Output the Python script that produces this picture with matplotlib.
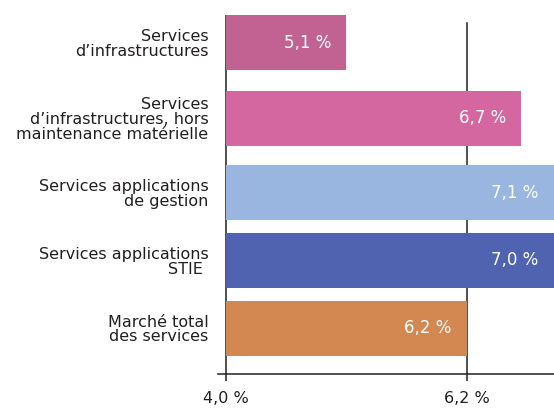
import numpy as np
import matplotlib
matplotlib.use('Agg')
import matplotlib.pyplot as plt

# donnees
categories = ["Services\nd\u2019infrastructures",
              "Services\nd\u2019infrastructures, hors\nmaintenance mat\u00e9rielle",
              "Services applications\nde gestion",
              "Services applications\nSTIE ",
              "March\u00e9 total\ndes services"]
valeurs = [5.1, 6.7, 7.1, 7.0, 6.2]
etiquettes = ["5,1 %", "6,7 %", "7,1 %", "7,0 %", "6,2 %"]
couleurs = ["#C26293", "#D4679F", "#98B6E0", "#5063B0", "#D38851"]
ticks_x = [4.0, 6.2]
ticks_lab = ["4,0 %", "6,2 %"]
base = 4.0

plt.rcParams['font.family'] = ['DejaVu Sans']
texte = '#231F20'

fig = plt.figure(figsize=(5.54, 4.12), dpi=100)
ax = fig.add_axes([218/554, 38/412, 336/554, 359/412])

# positions verticales des barres (espacement pas tout a fait regulier)
y = np.array([0, 1.06, 2.1, 3.05, 4.0])
ax.barh(y, np.array(valeurs) - base, left=base, height=0.77, color=couleurs, zorder=2)
for yi, v, lab in zip(y, valeurs, etiquettes):
    ax.text(min(v, 7.0) - 0.14, yi, lab, ha='right', va='center', color='white',
            fontsize=12, zorder=3)

ax.set_xlim(3.927, 7.0)
ax.set_ylim(4.64, -0.385)

ax.axvline(4.0, ymin=0, ymax=1, color=texte, lw=1.1, zorder=1)
ax.axvline(6.2, ymin=0, ymax=0.978, color=texte, lw=1.1, zorder=1)

for s in ['left', 'right', 'top']:
    ax.spines[s].set_visible(False)
ax.spines['bottom'].set_color(texte)
ax.spines['bottom'].set_linewidth(1.1)

ax.set_xticks(ticks_x)
ax.set_xticklabels(ticks_lab, fontsize=11.5, color=texte)
ax.tick_params(axis='x', direction='out', length=5, width=1.1, color=texte, pad=7)

ax.set_yticks(y)
ax.set_yticklabels(categories, fontsize=11.5, color=texte, linespacing=0.97)
ax.tick_params(axis='y', length=0, pad=7)

fig.savefig('out.png', dpi=100)
